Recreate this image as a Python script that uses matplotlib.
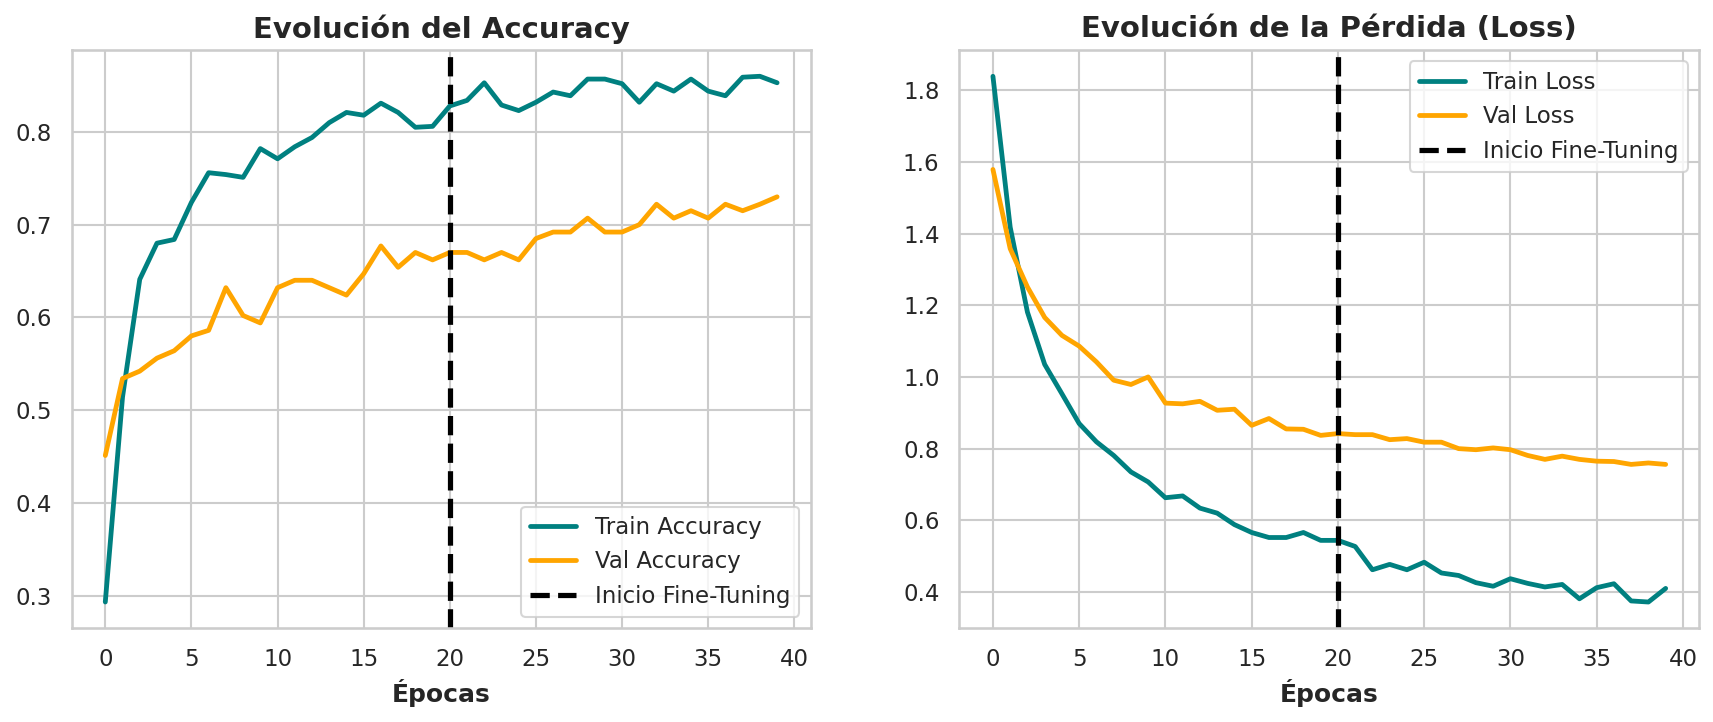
import matplotlib
matplotlib.use("Agg")
import matplotlib.pyplot as plt
import seaborn as sns

sns.set_theme(style="whitegrid")

# Historial (40 épocas, fine-tuning desde la época 20)
epocas = list(range(40))
train_acc = [0.293, 0.514, 0.641, 0.680, 0.684, 0.724, 0.756, 0.754, 0.751, 0.782,
             0.771, 0.784, 0.794, 0.810, 0.821, 0.818, 0.831, 0.821, 0.805, 0.806,
             0.828, 0.834, 0.853, 0.829, 0.823, 0.832, 0.843, 0.839, 0.857, 0.857,
             0.852, 0.832, 0.852, 0.844, 0.857, 0.844, 0.839, 0.859, 0.860, 0.853]
val_acc = [0.451, 0.534, 0.542, 0.556, 0.564, 0.580, 0.586, 0.632, 0.602, 0.594,
           0.632, 0.640, 0.640, 0.632, 0.624, 0.647, 0.677, 0.654, 0.670, 0.662,
           0.670, 0.670, 0.662, 0.670, 0.662, 0.685, 0.692, 0.692, 0.707, 0.692,
           0.692, 0.700, 0.722, 0.707, 0.715, 0.707, 0.722, 0.715, 0.722, 0.730]
train_loss = [1.839, 1.418, 1.181, 1.035, 0.953, 0.870, 0.819, 0.781, 0.735, 0.707,
              0.663, 0.668, 0.634, 0.620, 0.588, 0.566, 0.552, 0.552, 0.566, 0.544,
              0.544, 0.527, 0.462, 0.477, 0.462, 0.483, 0.453, 0.446, 0.426, 0.416,
              0.437, 0.424, 0.414, 0.421, 0.381, 0.412, 0.423, 0.375, 0.372, 0.410]
val_loss = [1.579, 1.358, 1.251, 1.166, 1.116, 1.086, 1.042, 0.991, 0.979, 1.000,
            0.927, 0.925, 0.932, 0.907, 0.910, 0.865, 0.884, 0.855, 0.854, 0.837,
            0.842, 0.839, 0.839, 0.825, 0.828, 0.818, 0.818, 0.800, 0.797, 0.802,
            0.797, 0.781, 0.770, 0.779, 0.770, 0.765, 0.764, 0.756, 0.760, 0.756]
inicio_ft = 20

TEAL = "#008080"
NARANJA = "#FFA500"

W, H, DPI = 1713, 722, 150
fig = plt.figure(figsize=(W / DPI, H / DPI), dpi=DPI)
ax1 = fig.add_axes([71.7 / W, 1 - 628.3 / H, 739 / W, 578.3 / H])
ax2 = fig.add_axes([959.3 / W, 1 - 628.3 / H, 740 / W, 578.3 / H])

for ax in (ax1, ax2):
    for s in ax.spines.values():
        s.set_color(".8")
        s.set_linewidth(1.25)
    ax.grid(True, color=".8", linewidth=1)
    ax.tick_params(labelsize=11, colors=".15")

# Accuracy
ax1.plot(epocas, train_acc, color=TEAL, lw=2.3, label="Train Accuracy")
ax1.plot(epocas, val_acc, color=NARANJA, lw=2.3, label="Val Accuracy")
ax1.axvline(inicio_ft, color="black", linestyle="--", lw=2.5, label="Inicio Fine-Tuning")
ax1.set_title("Evolución del Accuracy", fontsize=14, fontweight="bold", color=".15")
ax1.set_xlabel("Épocas", fontsize=12, fontweight="bold", color=".15")
ax1.legend(loc="lower right", fontsize=11)

# Loss
ax2.plot(epocas, train_loss, color=TEAL, lw=2.3, label="Train Loss")
ax2.plot(epocas, val_loss, color=NARANJA, lw=2.3, label="Val Loss")
ax2.axvline(inicio_ft, color="black", linestyle="--", lw=2.5, label="Inicio Fine-Tuning")
ax2.set_title("Evolución de la Pérdida (Loss)", fontsize=14, fontweight="bold", color=".15")
ax2.set_xlabel("Épocas", fontsize=12, fontweight="bold", color=".15")
ax2.legend(loc="upper right", fontsize=11)

fig.savefig("out.png", dpi=DPI)
